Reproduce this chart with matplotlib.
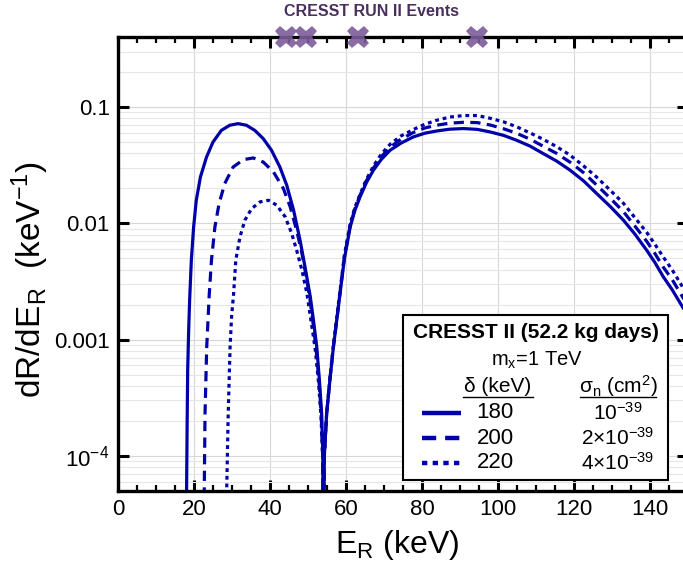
import numpy as np
import matplotlib
matplotlib.use("Agg")
import matplotlib.pyplot as plt
from matplotlib.lines import Line2D
from matplotlib.ticker import FixedLocator, MultipleLocator, NullFormatter

plt.rcParams['font.family'] = ['Liberation Sans', 'DejaVu Sans']
plt.rcParams['mathtext.fontset'] = 'custom'
plt.rcParams['mathtext.rm'] = 'Liberation Sans'
plt.rcParams['mathtext.it'] = 'Liberation Sans:italic'
plt.rcParams['mathtext.bf'] = 'Liberation Sans:bold'

# recoil spectra (E_R in keV, dR/dE_R in 1/keV)
e_180 = [18.0, 18.05, 18.2, 18.34, 18.6, 18.85, 19.3, 19.9, 20.6, 21.7, 23.3, 25.0, 27.2,
         29.4, 31.6, 33.8, 36.0, 38.2, 40.4, 42.6, 44.4, 46.2, 47.9, 49.2, 50.6, 51.4,
         52.3, 53.0, 53.6, 53.9, 54.05,
         54.3, 54.9, 55.8, 56.7, 57.8, 58.9, 59.6, 61.1, 62.3, 63.7, 65.4, 67.2, 69.3,
         71.6, 74.5, 77.7, 80.7, 83.8, 87.3, 90.9, 94.5, 98.0, 101.5, 104.9, 108.4,
         111.9, 115.5, 119.0, 122.5, 126.0, 129.5, 133.0, 136.0, 139.1, 141.3, 143.5,
         145.8, 148.0, 150.0]
r_180 = [1e-6, 5e-5, 2.0e-4, 5.5e-4, 1.21e-3, 2.19e-3, 4.83e-3, 9.3e-3, 0.0158, 0.0251,
         0.0372, 0.050, 0.063, 0.0697, 0.072, 0.0697, 0.063, 0.0536, 0.0425, 0.0305,
         0.0213, 0.013, 7.18e-3, 4.24e-3, 2.34e-3, 1.5e-3, 8.7e-4, 4.5e-4, 2.3e-4, 1e-4, 1e-5,
         1e-4, 2.3e-4, 4.6e-4, 8.7e-4, 0.0017, 0.0033, 0.0050, 0.0093, 0.0128, 0.0169,
         0.0225, 0.0286, 0.0355, 0.0425, 0.049, 0.0553, 0.0595, 0.0622, 0.0645, 0.0653,
         0.0643, 0.061, 0.057, 0.0518, 0.0462, 0.0398, 0.0342, 0.0286, 0.0232, 0.018,
         0.0140, 0.01065, 0.0081, 0.00589, 0.0046, 0.00347, 0.0027, 0.00205, 0.0016]

e_200 = [22.65, 22.7, 22.9, 23.35, 23.7, 24.0, 24.6, 25.5, 26.6, 28.1, 30.3, 33.0, 35.6,
         38.2, 40.9, 43.5, 45.3, 47.0, 48.4, 49.7, 50.4, 51.2, 52.1, 52.9, 53.5, 53.85, 54.05,
         54.3, 54.9, 55.8, 56.7, 57.8, 58.9, 59.6, 61.1, 62.3, 63.7, 65.4, 67.2, 69.3,
         71.6, 74.5, 77.7, 80.7, 83.8, 87.3, 90.9, 94.5, 98.0, 101.5, 104.9, 108.4,
         111.9, 115.5, 119.0, 122.5, 126.0, 129.5, 133.0, 136.0, 139.1, 141.3, 143.5,
         145.8, 148.0, 150.0]
r_200 = [1e-6, 5e-5, 2.3e-4, 8.7e-4, 1.5e-3, 2.42e-3, 4.83e-3, 9.3e-3, 0.0148, 0.022,
         0.0305, 0.0353, 0.0365, 0.0337, 0.0277, 0.020, 0.0139, 8.75e-3, 5.52e-3, 3.26e-3,
         2.34e-3, 1.5e-3, 8.5e-4, 4.4e-4, 2.2e-4, 1e-4, 1e-5,
         1e-4, 2.3e-4, 4.7e-4, 8.8e-4, 0.0017, 0.0034, 0.0052, 0.0096, 0.0132, 0.01746,
         0.0233, 0.0298, 0.0375, 0.0451, 0.053, 0.0603, 0.066, 0.0697, 0.0727, 0.0739,
         0.0735, 0.070, 0.065, 0.0595, 0.053, 0.046, 0.0398, 0.0335, 0.0273, 0.0213,
         0.0165, 0.0126, 0.0095, 0.00703, 0.0055, 0.0042, 0.0033, 0.0025, 0.00195]

e_220 = [28.55, 28.6, 29.0, 29.5, 29.9, 30.4, 31.0, 32.1, 33.4, 35.2, 37.4, 39.6, 41.8,
         44.0, 45.7, 47.0, 48.4, 49.7, 50.6, 51.9, 52.8, 53.45, 53.85, 54.05,
         54.3, 54.9, 55.8, 56.7, 57.8, 58.9, 59.6, 61.1, 62.3, 63.7, 65.4, 67.2, 69.3,
         71.6, 74.5, 77.7, 80.7, 83.8, 87.3, 90.9, 94.5, 98.0, 101.5, 104.9, 108.4,
         111.9, 115.5, 119.0, 122.5, 126.0, 129.5, 133.0, 136.0, 139.1, 141.3, 143.5,
         145.8, 148.0, 150.0]
r_220 = [1e-6, 5e-5, 2.3e-4, 8.7e-4, 1.6e-3, 2.42e-3, 4.83e-3, 7.66e-3, 0.01066, 0.01343,
         0.0153, 0.0158, 0.0143, 0.01137, 8.19e-3, 5.89e-3, 3.96e-3, 2.51e-3, 1.6e-3,
         8.3e-4, 4.2e-4, 2.1e-4, 1e-4, 1e-5,
         1e-4, 2.3e-4, 4.8e-4, 9e-4, 0.0018, 0.0035, 0.0054, 0.0099, 0.0136, 0.0178,
         0.024, 0.031, 0.0395, 0.0478, 0.0565, 0.064, 0.071, 0.0769, 0.082, 0.0845,
         0.0845, 0.080, 0.0745, 0.0676, 0.060, 0.0528, 0.0455, 0.0385, 0.0312, 0.0249,
         0.0193, 0.0149, 0.0112, 0.0084, 0.0066, 0.00513, 0.0040, 0.00305, 0.00237]

events = [44.2, 49.5, 63.2, 94.5]

deltas = ["180", "200", "220"]
sigmas = [r"10$^\mathregular{-39}$", r"2×10$^\mathregular{-39}$", r"4×10$^\mathregular{-39}$"]

blue = "#0000a8"
W, H = 683, 563
fig = plt.figure(figsize=(W / 100, H / 100), dpi=100)
ax = fig.add_axes([118 / W, 1 - 491 / H, 570 / W, 454 / H])

styles = [dict(ls="-"), dict(ls=(0, (3.2, 2.0))), dict(ls=(0, (1.2, 1.2)))]
for (e, r), st in zip([(e_180, r_180), (e_200, r_200), (e_220, r_220)], styles):
    ax.plot(e, r, color=blue, lw=2.3, solid_capstyle="butt", dash_capstyle="butt",
            solid_joinstyle="round", **st)

ax.set_yscale("log")
ax.set_xlim(0, 150)
ax.set_ylim(5e-5, 0.4)

ax.xaxis.set_major_locator(MultipleLocator(20))
ax.xaxis.set_minor_locator(MultipleLocator(5))
ax.yaxis.set_major_locator(FixedLocator([1e-4, 1e-3, 1e-2, 0.1]))
ax.set_yticklabels([r"$10^{-4}$", "0.001", "0.01", "0.1"])
ax.yaxis.set_minor_locator(FixedLocator([m * 10.0 ** k for k in range(-5, 0) for m in range(2, 10)]))
ax.yaxis.set_minor_formatter(NullFormatter())

ax.tick_params(which="both", direction="in", top=True, right=True, labelsize=16, pad=6)
ax.tick_params(axis="x", which="major", length=8, width=2.2)
ax.tick_params(axis="x", which="minor", length=4, width=1.6)
ax.tick_params(axis="y", which="major", length=8, width=2.2)
ax.tick_params(axis="y", which="minor", length=0)
ax.grid(True, which="major", color="#d8d8d8", lw=0.8)
ax.grid(True, which="minor", axis="y", color="#e6e6e6", lw=0.8)
ax.set_axisbelow(True)
for sp in ax.spines.values():
    sp.set_linewidth(2.4)

# CRESST events along the top edge
ax.plot(events, [1] * len(events), ls="none", marker="X", ms=16, mew=0,
        color="#7d5c9a", alpha=0.9, transform=ax.get_xaxis_transform(), clip_on=False, zorder=5)
fig.text(372 / W, 1 - 12 / H, "CRESST RUN II Events", ha="center", va="center",
         fontsize=11.5, fontweight="bold", color="#4a2f5e",
         family=["Liberation Sans Narrow", "Liberation Sans"])

fig.text(397 / W, 1 - 545 / H, r"E$_\mathregular{R}$ (keV)", ha="center", va="center", fontsize=23)
fig.text(30 / W, 1 - 280 / H, r"dR/dE$_\mathregular{R}$  (keV$^\mathregular{-1}$)",
         ha="center", va="center", rotation=90, fontsize=24)


# legend box
def fx(x):
    return x / W


def fy(y):
    return 1 - y / H


fig.patches.append(plt.Rectangle((fx(403), fy(480)), fx(668) - fx(403), fy(315) - fy(480),
                                 transform=fig.transFigure, facecolor="white",
                                 edgecolor="black", lw=1.5, zorder=6))
fig.text(fx(536), fy(333), "CRESST II (52.2 kg days)", ha="center", va="center",
         fontsize=15, fontweight="bold", zorder=7)
fig.text(fx(537), fy(360), r"m$_\mathregular{x}$=1 TeV", ha="center", va="center",
         fontsize=14.5, zorder=7)
fig.text(fx(498), fy(386), "δ (keV)", ha="center", va="center", fontsize=15, zorder=7)
fig.text(fx(618), fy(386), r"σ$_\mathregular{n}$ (cm$^\mathregular{2}$)", ha="center",
         va="center", fontsize=15, zorder=7)
for x0, x1 in [(463, 533), (580, 656)]:
    fig.lines.append(Line2D([fx(x0), fx(x1)], [fy(397), fy(397)], transform=fig.transFigure,
                            color="black", lw=1.0, zorder=7))

rows = [413, 438, 463]
for yy, st, d, s in zip(rows, styles, deltas, sigmas):
    fig.lines.append(Line2D([fx(422), fx(461)], [fy(yy), fy(yy)], transform=fig.transFigure,
                            color=blue, lw=3.2, solid_capstyle="butt", dash_capstyle="butt",
                            zorder=7, **st))
    fig.text(fx(495), fy(yy), d, ha="center", va="center", fontsize=16, zorder=7)
    fig.text(fx(618), fy(yy), s, ha="center", va="center", fontsize=15, zorder=7)

fig.savefig("out.png", dpi=100)
